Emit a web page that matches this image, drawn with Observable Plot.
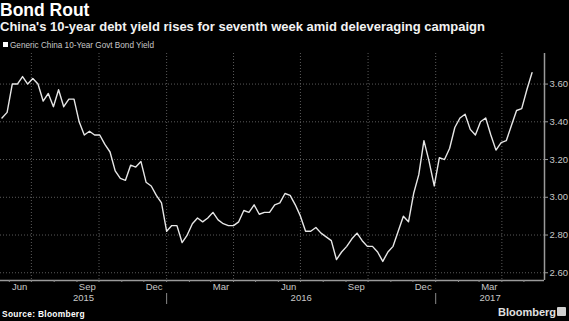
<!DOCTYPE html>
<html>
<head>
<meta charset="utf-8">
<script src="https://cdn.jsdelivr.net/npm/d3@7"></script>
<script src="https://cdn.jsdelivr.net/npm/@observablehq/plot@0.6"></script>
<style>
  html, body { margin: 0; padding: 0; background: #000; }
  body { width: 569px; height: 321px; position: relative; overflow: hidden; font-family: "Liberation Sans", Arial, sans-serif; }
  .abs { position: absolute; left: 0; }
  svg text { font-family: "Liberation Sans", Arial, sans-serif; }
</style>
</head>
<body>
<svg id="header" class="abs" style="top:0" width="569" height="50">
  <text x="0" y="15.5" font-size="17.5" font-weight="bold" fill="#ffffff">Bond Rout</text>
  <text x="0" y="30.5" font-size="13" font-weight="bold" fill="#f2f2f2">China's 10-year debt yield rises for seventh week amid deleveraging campaign</text>
  <rect x="3" y="42" width="5" height="5" fill="#ffffff"></rect>
  <text x="10" y="47.5" font-size="8.2" fill="#c8c8c8">Generic China 10-Year Govt Bond Yield</text>
</svg>
<div id="chart" class="abs" style="top:50px"></div>
<svg id="footer" class="abs" style="top:305px" width="569" height="16">
  <text x="2" y="11.5" font-size="8.4" font-weight="bold" fill="#ffffff" letter-spacing="0.3">Source: Bloomberg</text>
  <text x="498" y="10.5" font-size="11" font-weight="bold" fill="#e0e0e0">Bloomberg</text>
  <rect x="557" y="2" width="9" height="9" rx="1" fill="#cfcfcf"></rect>
</svg>
<script>
// Weekly (Friday) closes, starting 2015-05-22
const seriesName = "Generic China 10-Year Govt Bond Yield";
const firstWeek = "2015-05-22";
const yieldValues = [
  3.42, 3.45, 3.60, 3.60, 3.64, 3.60, 3.63, 3.60, 3.51, 3.55,
  3.48, 3.57, 3.48, 3.52, 3.52, 3.40, 3.33, 3.35, 3.33, 3.33,
  3.28, 3.24, 3.14, 3.10, 3.09, 3.17, 3.16, 3.19, 3.08, 3.06,
  3.01, 2.97, 2.82, 2.85, 2.85, 2.76, 2.80, 2.86, 2.89, 2.87,
  2.89, 2.92, 2.88, 2.86, 2.85, 2.85, 2.87, 2.93, 2.92, 2.96,
  2.91, 2.92, 2.92, 2.96, 2.97, 3.02, 3.01, 2.96, 2.90, 2.82,
  2.82, 2.84, 2.81, 2.79, 2.77, 2.67, 2.71, 2.74, 2.78, 2.81,
  2.77, 2.74, 2.74, 2.71, 2.66, 2.71, 2.74, 2.82, 2.90, 2.87,
  3.02, 3.12, 3.30, 3.19, 3.06, 3.21, 3.20, 3.26, 3.37, 3.42,
  3.44, 3.36, 3.33, 3.40, 3.42, 3.33, 3.25, 3.29, 3.30, 3.38,
  3.46, 3.47, 3.57, 3.66
];
const yTicks = [2.60, 2.80, 3.00, 3.20, 3.40, 3.60];
const monthLabels = ["2015-06-15", "2015-09-15", "2015-12-15", "2016-03-15", "2016-06-15", "2016-09-15", "2016-12-15", "2017-03-15"];
const yearLabels = ["2015", "2016", "2017"];
const xStart = "2015-05-20", xEnd = "2017-05-29";
const yMin = 2.559, yMax = 3.762;

const start = new Date(firstWeek);
const data = yieldValues.map((v, i) => ({date: d3.utcDay.offset(start, 7 * i), value: v}));
const x0 = new Date(xStart), x1 = new Date(xEnd);
const quarterStarts = d3.utcMonth.range(x0, x1).filter(d => [0, 3, 6, 9].includes(d.getUTCMonth()));
const monthStarts = d3.utcMonth.range(x0, x1);
const yearStarts = d3.utcYear.range(x0, x1);
const yearPos = yearLabels.map(y => {
  const a = new Date(Math.max(+x0, Date.UTC(+y, 0, 1)));
  const b = new Date(Math.min(+x1, Date.UTC(+y + 1, 0, 1)));
  return {date: new Date((+a + +b) / 2), label: y};
});

const chart = Plot.plot({
  width: 569,
  height: 260,
  marginLeft: 0,
  marginRight: 25,
  marginTop: 3,
  marginBottom: 30,
  style: {background: "#000", color: "#c8c8c8", fontFamily: "'Liberation Sans', Arial, sans-serif", fontSize: "9.5px", overflow: "visible"},
  x: {type: "utc", domain: [x0, x1]},
  y: {domain: [yMin, yMax]},
  marks: [
    Plot.gridY(yTicks, {stroke: "#5a5a5a", strokeOpacity: 1, strokeDasharray: "1,2"}),
    Plot.gridX(quarterStarts, {stroke: "#5a5a5a", strokeOpacity: 1, strokeDasharray: "1,2"}),
    Plot.ruleY([yMin], {stroke: "#9a9a9a", strokeWidth: 1.5}),
    Plot.ruleX([x1], {stroke: "#9a9a9a", strokeWidth: 1.5}),
    Plot.axisY(yTicks, {anchor: "right", tickSize: 3, tickPadding: 2, tickFormat: d3.format(".2f"), stroke: "#9a9a9a", fill: "#c8c8c8", label: null}),
    Plot.axisX(monthStarts, {tickSize: 2, tickFormat: () => "", stroke: "#8a8a8a", label: null}),
    Plot.axisX(yearStarts, {tickSize: 11, dy: 13, tickFormat: () => "", stroke: "#8a8a8a", label: null}),
    Plot.text(monthLabels, {x: d => new Date(d), frameAnchor: "bottom", dy: 9, text: d => d3.utcFormat("%b")(new Date(d)), fill: "#c8c8c8"}),
    Plot.text(yearPos, {x: "date", frameAnchor: "bottom", dy: 20, text: "label", fill: "#c8c8c8"}),
    Plot.line(data, {x: "date", y: "value", stroke: "#e6e6e6", strokeWidth: 1.4})
  ]
});
document.getElementById("chart").appendChild(chart);
</script>
</body>
</html>
